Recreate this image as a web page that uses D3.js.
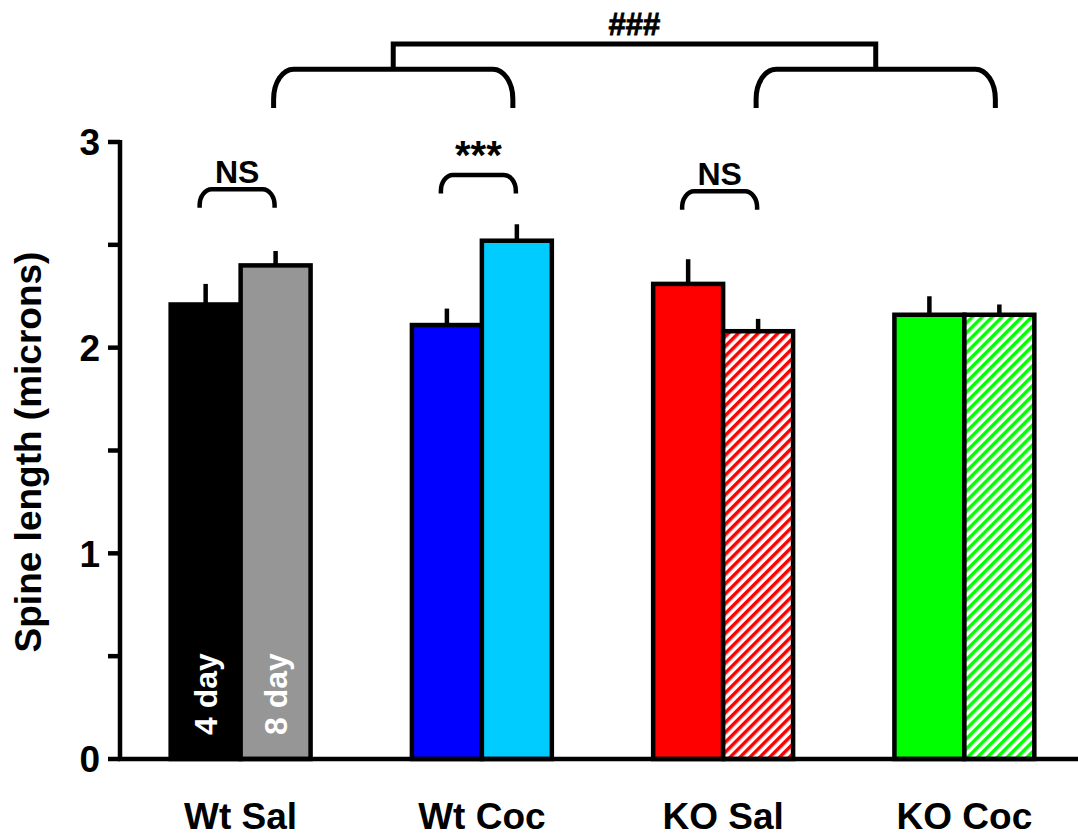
<!DOCTYPE html>
<html>
<head>
<meta charset="utf-8">
<script src="https://cdn.jsdelivr.net/npm/d3@7"></script>
<style>
  body { margin: 0; background: white; }
  text { font-family: Arial, "Liberation Sans", sans-serif; font-weight: bold; }
</style>
</head>
<body>
<div id="viz"></div>
<script>

// the data
var categories = ['Wt Sal', 'Wt Coc', 'KO Sal', 'KO Coc'];
var days = ['4 day', '8 day'];
var mean4 = [2.21, 2.11, 2.31, 2.16];
var mean8 = [2.40, 2.52, 2.08, 2.16];
var sem4 = [0.10, 0.08, 0.12, 0.09];
var sem8 = [0.07, 0.08, 0.06, 0.05];
var yTicks = [0, 0.5, 1, 1.5, 2, 2.5, 3];
var yLabels = ['0', '', '1', '', '2', '', '3'];

// significance marks: group, label, top of bracket, bottom of legs (y units)
var pairMarks = [
	{cat: 'Wt Sal', label: 'NS', top: 2.77, foot: 2.68},
	{cat: 'Wt Coc', label: '***', top: 2.84, foot: 2.75},
	{cat: 'KO Sal', label: 'NS', top: 2.76, foot: 2.67}
];
var braces = [['Wt Sal', 'Wt Coc'], ['KO Sal', 'KO Coc']];
var braceTop = 3.354, braceFoot = 3.165, braceJoin = 3.476, braceLabel = '###';

var fills = [
	['#000000', '#969696'],
	['#0000ff', '#00ccff'],
	['#ff0000', 'url(#hatchRed)'],
	['#00ff00', 'url(#hatchGreen)']
];

var width = 1078,
	height = 838;

var svg = d3.select('#viz').append('svg')
	.attr('width', width)
	.attr('height', height);

// hatch patterns
var defs = svg.append('defs');
[['hatchRed', '#ff0000'], ['hatchGreen', '#00ff00']].forEach(function(p){
	var pat = defs.append('pattern')
		.attr('id', p[0])
		.attr('patternUnits', 'userSpaceOnUse')
		.attr('width', 7)
		.attr('height', 7)
		.attr('patternTransform', 'rotate(45)');
	pat.append('rect').attr('width', 7).attr('height', 7).attr('fill', 'white');
	pat.append('line')
		.attr('x1', 1.75).attr('x2', 1.75)
		.attr('y1', 0).attr('y2', 7)
		.attr('stroke', p[1])
		.attr('stroke-width', 3.5);
});

var yScale = d3.scaleLinear()
	.domain([0, 3])
	.range([759, 142]);

var xScale = d3.scaleBand()
	.domain(categories)
	.range([120, 1085])
	.paddingInner(0.42)
	.paddingOuter(0.21);

var xSub = d3.scaleBand()
	.domain(days)
	.range([0, xScale.bandwidth()]);

function subCenter(cat, day){
	return xScale(cat) + xSub(day) + xSub.bandwidth() / 2;
}

// bars
var rows = [];
categories.forEach(function(c, i){
	rows.push({cat: c, day: days[0], v: mean4[i], e: sem4[i], fill: fills[i][0]});
	rows.push({cat: c, day: days[1], v: mean8[i], e: sem8[i], fill: fills[i][1]});
});

// error bars (drawn first so the bar outline covers the join)
svg.selectAll('line.err').data(rows)
	.enter().append('line')
	.attr('class', 'err')
	.attr('x1', function(d){ return subCenter(d.cat, d.day); })
	.attr('x2', function(d){ return subCenter(d.cat, d.day); })
	.attr('y1', function(d){ return yScale(d.v); })
	.attr('y2', function(d){ return yScale(d.v + d.e); })
	.attr('stroke', 'black')
	.attr('stroke-width', 4.5);

svg.selectAll('rect.bar').data(rows)
	.enter().append('rect')
	.attr('class', 'bar')
	.attr('x', function(d){ return xScale(d.cat) + xSub(d.day); })
	.attr('width', xSub.bandwidth())
	.attr('y', function(d){ return yScale(d.v); })
	.attr('height', function(d){ return yScale(0) - yScale(d.v); })
	.attr('fill', function(d){ return d.fill; })
	.attr('stroke', 'black')
	.attr('stroke-width', 4.5);

// in-bar day labels for the first group
svg.selectAll('text.day').data(days)
	.enter().append('text')
	.attr('class', 'day')
	.attr('transform', function(d){
		return 'translate(' + (subCenter(categories[0], d) + 11) + ',735) rotate(-90)';
	})
	.attr('fill', 'white')
	.style('font-size', '32px')
	.text(function(d){ return d; });

// y axis
var yAxis = svg.append('g');
yAxis.append('line')
	.attr('x1', 120).attr('x2', 120)
	.attr('y1', yScale(3) - 2).attr('y2', yScale(0) + 2)
	.attr('stroke', 'black').attr('stroke-width', 4.5);
yAxis.selectAll('line.tick').data(yTicks)
	.enter().append('line')
	.attr('class', 'tick')
	.attr('x1', 108).attr('x2', 120)
	.attr('y1', function(d){ return yScale(d); })
	.attr('y2', function(d){ return yScale(d); })
	.attr('stroke', 'black').attr('stroke-width', 4.5);
yAxis.selectAll('text').data(yTicks)
	.enter().append('text')
	.attr('x', 100)
	.attr('y', function(d){ return yScale(d); })
	.attr('dy', '0.36em')
	.attr('text-anchor', 'end')
	.style('font-size', '37px')
	.text(function(d, i){ return yLabels[i]; });

svg.append('text')
	.attr('transform', 'translate(41,452) rotate(-90)')
	.attr('text-anchor', 'middle')
	.style('font-size', '37px')
	.text('Spine length (microns)');

// x axis
svg.append('line')
	.attr('x1', 118).attr('x2', width)
	.attr('y1', yScale(0)).attr('y2', yScale(0))
	.attr('stroke', 'black').attr('stroke-width', 4.5);

svg.selectAll('text.cat').data(categories)
	.enter().append('text')
	.attr('class', 'cat')
	.attr('x', function(d){ return xScale(d) + xScale.bandwidth() / 2; })
	.attr('y', 829)
	.attr('text-anchor', 'middle')
	.style('font-size', '37px')
	.text(function(d){ return d; });

// bracket path with rounded shoulders
function bracket(x1, x2, yt, yb, rx, ry){
	return 'M' + x1 + ',' + yb +
		'L' + x1 + ',' + (yt + ry) +
		'A' + rx + ',' + ry + ' 0 0 1 ' + (x1 + rx) + ',' + yt +
		'L' + (x2 - rx) + ',' + yt +
		'A' + rx + ',' + ry + ' 0 0 1 ' + x2 + ',' + (yt + ry) +
		'L' + x2 + ',' + yb;
}

pairMarks.forEach(function(m){
	var x1 = subCenter(m.cat, days[0]) - 6,
		x2 = subCenter(m.cat, days[1]) - 1;
	svg.append('path')
		.attr('d', bracket(x1, x2, yScale(m.top), yScale(m.foot), 12, 16))
		.attr('fill', 'none')
		.attr('stroke', 'black')
		.attr('stroke-width', 4.5);
	svg.append('text')
		.attr('x', (x1 + x2) / 2)
		.attr('y', yScale(m.top) - 6)
		.attr('text-anchor', 'middle')
		.style('font-size', m.label == '***' ? '40px' : '32px')
		.text(m.label);
});

// the wide braces across the 8 day bars, joined on top
var mids = [];
braces.forEach(function(b){
	var x1 = subCenter(b[0], days[1]) - 2,
		x2 = subCenter(b[1], days[1]) - 4;
	mids.push((x1 + x2) / 2);
	svg.append('path')
		.attr('d', bracket(x1, x2, yScale(braceTop), yScale(braceFoot), 20, 30))
		.attr('fill', 'none')
		.attr('stroke', 'black')
		.attr('stroke-width', 5);
});

svg.append('path')
	.attr('d', 'M' + mids[0] + ',' + yScale(braceTop) +
		'L' + mids[0] + ',' + yScale(braceJoin) +
		'L' + mids[1] + ',' + yScale(braceJoin) +
		'L' + mids[1] + ',' + yScale(braceTop))
	.attr('fill', 'none')
	.attr('stroke', 'black')
	.attr('stroke-width', 5);

svg.append('text')
	.attr('x', (mids[0] + mids[1]) / 2)
	.attr('y', 35)
	.attr('text-anchor', 'middle')
	.style('font-size', '31px')
	.style('stroke', 'black')
	.style('stroke-width', 0.8)
	.text(braceLabel);

</script>
</body>
</html>
